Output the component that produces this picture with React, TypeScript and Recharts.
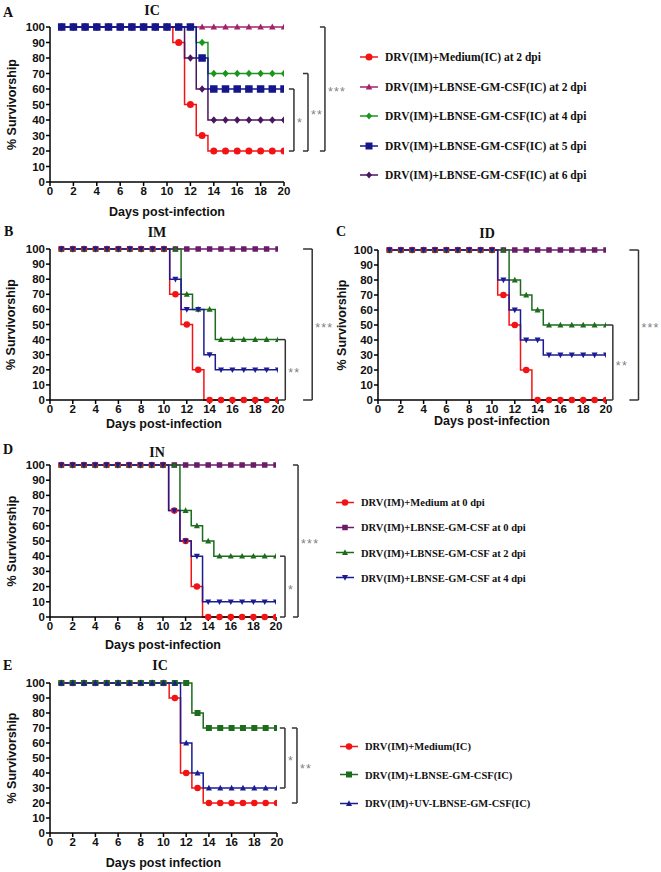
import React from 'react';
import { LineChart, Line, XAxis, YAxis, ReferenceLine } from 'recharts';

// days on which each group was scored
const days = [1, 2, 3, 4, 5, 6, 7, 8, 9, 10, 11, 12, 13, 14, 15, 16, 17, 18, 19, 20];
const xTicks = [0, 2, 4, 6, 8, 10, 12, 14, 16, 18, 20];
const yTicks = [0, 10, 20, 30, 40, 50, 60, 70, 80, 90, 100];

// A - IC treatment at different days
const aMedium = [100, 100, 100, 100, 100, 100, 100, 100, 100, 100, 90, 50, 30, 20, 20, 20, 20, 20, 20, 20];
const aDpi2 = [100, 100, 100, 100, 100, 100, 100, 100, 100, 100, 100, 100, 100, 100, 100, 100, 100, 100, 100, 100];
const aDpi4 = [100, 100, 100, 100, 100, 100, 100, 100, 100, 100, 100, 100, 90, 70, 70, 70, 70, 70, 70, 70];
const aDpi5 = [100, 100, 100, 100, 100, 100, 100, 100, 100, 100, 100, 100, 80, 60, 60, 60, 60, 60, 60, 60];
const aDpi6 = [100, 100, 100, 100, 100, 100, 100, 100, 100, 100, 100, 80, 60, 40, 40, 40, 40, 40, 40, 40];

// B - IM
const bMedium = [100, 100, 100, 100, 100, 100, 100, 100, 100, 100, 70, 50, 20, 0, 0, 0, 0, 0, 0, 0];
const bDpi0 = [100, 100, 100, 100, 100, 100, 100, 100, 100, 100, 100, 100, 100, 100, 100, 100, 100, 100, 100, 100];
const bDpi2 = [100, 100, 100, 100, 100, 100, 100, 100, 100, 100, 100, 70, 60, 60, 40, 40, 40, 40, 40, 40];
const bDpi4 = [100, 100, 100, 100, 100, 100, 100, 100, 100, 100, 80, 60, 60, 30, 20, 20, 20, 20, 20, 20];

// C - ID
const cMedium = [100, 100, 100, 100, 100, 100, 100, 100, 100, 100, 70, 50, 20, 0, 0, 0, 0, 0, 0, 0];
const cDpi0 = [100, 100, 100, 100, 100, 100, 100, 100, 100, 100, 100, 100, 100, 100, 100, 100, 100, 100, 100, 100];
const cDpi2 = [100, 100, 100, 100, 100, 100, 100, 100, 100, 100, 100, 80, 70, 60, 50, 50, 50, 50, 50, 50];
const cDpi4 = [100, 100, 100, 100, 100, 100, 100, 100, 100, 100, 80, 60, 40, 40, 30, 30, 30, 30, 30, 30];

// D - IN
const dMedium = [100, 100, 100, 100, 100, 100, 100, 100, 100, 100, 70, 50, 20, 0, 0, 0, 0, 0, 0, 0];
const dDpi0 = [100, 100, 100, 100, 100, 100, 100, 100, 100, 100, 100, 100, 100, 100, 100, 100, 100, 100, 100, 100];
const dDpi2 = [100, 100, 100, 100, 100, 100, 100, 100, 100, 100, 100, 70, 60, 50, 40, 40, 40, 40, 40, 40];
const dDpi4 = [100, 100, 100, 100, 100, 100, 100, 100, 100, 100, 70, 50, 40, 10, 10, 10, 10, 10, 10, 10];

// E - IC, live vs UV-inactivated
const eMedium = [100, 100, 100, 100, 100, 100, 100, 100, 100, 100, 90, 40, 30, 20, 20, 20, 20, 20, 20, 20];
const eLbnse = [100, 100, 100, 100, 100, 100, 100, 100, 100, 100, 100, 100, 80, 70, 70, 70, 70, 70, 70, 70];
const eUv = [100, 100, 100, 100, 100, 100, 100, 100, 100, 100, 100, 60, 40, 30, 30, 30, 30, 30, 30, 30];

const RED = '#f21414';
const MAROON = '#a3226a';
const GREEN_A = '#1c951c';
const NAVY = '#16168c';
const PURPLE_A = '#4a165e';
const PURPLE = '#6a1c6a';
const GREEN = '#1c6c1c';
const BLUE = '#1c1c92';

const SANS = '"Liberation Sans", Arial, sans-serif';
const SERIF = '"Liberation Serif", "Times New Roman", serif';

type Shape = 'circle' | 'square' | 'triangle' | 'triangleDown' | 'diamond';

interface Series {
  name: string;
  color: string;
  shape: Shape;
  size: number;
  values: number[];
}

interface Bracket {
  x: number;
  tick: number;
  y1: number;
  y2: number;
  label: string;
}

function Marker({ shape, cx, cy, size, color }: { shape: Shape; cx: number; cy: number; size: number; color: string }) {
  const h = size / 2;
  if (shape === 'circle') return <circle cx={cx} cy={cy} r={h} fill={color} />;
  if (shape === 'square') return <rect x={cx - h} y={cy - h} width={size} height={size} fill={color} />;
  if (shape === 'triangle')
    return <polygon points={`${cx},${cy - h * 1.1} ${cx + h},${cy + h * 0.8} ${cx - h},${cy + h * 0.8}`} fill={color} />;
  if (shape === 'triangleDown')
    return <polygon points={`${cx},${cy + h * 1.1} ${cx + h},${cy - h * 0.8} ${cx - h},${cy - h * 0.8}`} fill={color} />;
  return <polygon points={`${cx},${cy - h} ${cx + h * 0.85},${cy} ${cx},${cy + h} ${cx - h * 0.85},${cy}`} fill={color} />;
}

// significance stars next to a bracket
const starLabel = (text: string) => (props: any) => {
  const vb = props.viewBox || {};
  return (
    <text
      x={vb.x + 3}
      y={vb.y + vb.height / 2 + 7}
      fill="#808080"
      fontSize={12.5}
      fontFamily={SANS}
      letterSpacing={1.2}
    >
      {text}
    </text>
  );
};

interface PanelProps {
  left: number;
  top: number;
  width: number;
  height: number;
  plot: { left: number; right: number; top: number; bottom: number };
  series: Series[];
  brackets: Bracket[];
  xLabel: string;
  xLabelOffset: number;
  yLabelOffset: number;
}

function Panel({ left, top, width, height, plot, series, brackets, xLabel, xLabelOffset, yLabelOffset }: PanelProps) {
  const data = days.map((d, i) => {
    const row: any = { day: d };
    series.forEach((s, j) => {
      row['s' + j] = s.values[i];
    });
    return row;
  });

  const tickStyle = { fontSize: 11.5, fontWeight: 700, fontFamily: SANS, fill: '#111' };
  const labelStyle = { fontSize: 12.5, fontWeight: 700, fontFamily: SANS, fill: '#111' };

  return (
    <div style={{ position: 'absolute', left, top, width, height }}>
      <LineChart
        width={width}
        height={height}
        data={data}
        margin={{ top: plot.top - top, right: left + width - plot.right, bottom: 0, left: 0 }}
      >
        <XAxis
          dataKey="day"
          type="number"
          domain={[0, 20]}
          ticks={xTicks}
          interval={0}
          allowDataOverflow
          height={top + height - plot.bottom}
          stroke="#000"
          strokeWidth={1.5}
          tickSize={4}
          tickMargin={1}
          tick={tickStyle}
          label={{ value: xLabel, position: 'insideBottom', offset: xLabelOffset, style: labelStyle }}
        />
        <YAxis
          type="number"
          domain={[0, 100]}
          ticks={yTicks}
          interval={0}
          width={plot.left - left}
          stroke="#000"
          strokeWidth={1.5}
          tickSize={4}
          tickMargin={1}
          tick={tickStyle}
          label={{
            value: '% Survivorship',
            angle: -90,
            position: 'insideLeft',
            offset: yLabelOffset,
            style: { ...labelStyle, textAnchor: 'middle' },
          }}
        />
        {series.map((s, j) => (
          <Line
            key={s.name}
            type="step"
            dataKey={'s' + j}
            stroke={s.color}
            strokeWidth={1.5}
            isAnimationActive={false}
            activeDot={false}
            dot={(p: any) => (
              <Marker key={`${j}-${p.index}`} shape={s.shape} cx={p.cx} cy={p.cy} size={s.size} color={s.color} />
            )}
          />
        ))}
        {brackets.map((b, k) => [
          <ReferenceLine
            key={`v${k}`}
            segment={[{ x: b.x, y: b.y1 }, { x: b.x, y: b.y2 }]}
            ifOverflow="visible"
            stroke="#333"
            strokeWidth={1.5}
            label={starLabel(b.label)}
          />,
          <ReferenceLine
            key={`t${k}`}
            segment={[{ x: b.x - b.tick, y: b.y1 }, { x: b.x, y: b.y1 }]}
            ifOverflow="visible"
            stroke="#333"
            strokeWidth={1.5}
          />,
          <ReferenceLine
            key={`b${k}`}
            segment={[{ x: b.x - b.tick, y: b.y2 }, { x: b.x, y: b.y2 }]}
            ifOverflow="visible"
            stroke="#333"
            strokeWidth={1.5}
          />,
        ])}
      </LineChart>
    </div>
  );
}

function Legend({ left, top, gap, fontSize, series }: { left: number; top: number; gap: number; fontSize: number; series: Series[] }) {
  return (
    <div style={{ position: 'absolute', left, top }}>
      {series.map((s, i) => (
        <div
          key={s.name}
          style={{ position: 'absolute', left: 0, top: i * gap, display: 'flex', alignItems: 'center', whiteSpace: 'nowrap', transform: 'translateY(-50%)' }}
        >
          <svg width={18} height={10} style={{ display: 'block' }}>
            <line x1={0} y1={5} x2={18} y2={5} stroke={s.color} strokeWidth={1.5} />
            <Marker shape={s.shape} cx={9} cy={5} size={Math.min(s.size, 7)} color={s.color} />
          </svg>
          <span style={{ marginLeft: 7, fontFamily: SERIF, fontWeight: 700, fontSize, color: '#111' }}>{s.name}</span>
        </div>
      ))}
    </div>
  );
}

function Caption({ x, y, text, center }: { x: number; y: number; text: string; center?: boolean }) {
  return (
    <div
      style={{
        position: 'absolute',
        left: x,
        top: y,
        transform: center ? 'translate(-50%, -50%)' : 'translateY(-50%)',
        fontFamily: SERIF,
        fontWeight: 700,
        fontSize: 14,
        color: '#111',
        lineHeight: 1,
      }}
    >
      {text}
    </div>
  );
}

const seriesA: Series[] = [
  { name: 'DRV(IM)+Medium(IC) at 2 dpi', color: RED, shape: 'circle', size: 7, values: aMedium },
  { name: 'DRV(IM)+LBNSE-GM-CSF(IC) at 2 dpi', color: MAROON, shape: 'triangle', size: 6.5, values: aDpi2 },
  { name: 'DRV(IM)+LBNSE-GM-CSF(IC) at 4 dpi', color: GREEN_A, shape: 'diamond', size: 7.5, values: aDpi4 },
  { name: 'DRV(IM)+LBNSE-GM-CSF(IC) at 5 dpi', color: NAVY, shape: 'square', size: 7.5, values: aDpi5 },
  { name: 'DRV(IM)+LBNSE-GM-CSF(IC) at 6 dpi', color: PURPLE_A, shape: 'diamond', size: 7.5, values: aDpi6 },
];
const orderA = [seriesA[0], seriesA[1], seriesA[2], seriesA[4], seriesA[3]];

const seriesB: Series[] = [
  { name: 'DRV(IM)+Medium at 0 dpi', color: RED, shape: 'circle', size: 6.5, values: bMedium },
  { name: 'DRV(IM)+LBNSE-GM-CSF at 0 dpi', color: PURPLE, shape: 'square', size: 5.5, values: bDpi0 },
  { name: 'DRV(IM)+LBNSE-GM-CSF at 2 dpi', color: GREEN, shape: 'triangle', size: 6, values: bDpi2 },
  { name: 'DRV(IM)+LBNSE-GM-CSF at 4 dpi', color: BLUE, shape: 'triangleDown', size: 6, values: bDpi4 },
];
const seriesC: Series[] = [
  { ...seriesB[0], values: cMedium },
  { ...seriesB[1], values: cDpi0 },
  { ...seriesB[2], values: cDpi2 },
  { ...seriesB[3], values: cDpi4 },
];
const seriesD: Series[] = [
  { ...seriesB[0], values: dMedium },
  { ...seriesB[1], values: dDpi0 },
  { ...seriesB[2], values: dDpi2 },
  { ...seriesB[3], values: dDpi4 },
];
const orderBCD = (s: Series[]) => [s[1], s[0], s[2], s[3]];

const seriesE: Series[] = [
  { name: 'DRV(IM)+Medium(IC)', color: RED, shape: 'circle', size: 6.5, values: eMedium },
  { name: 'DRV(IM)+LBNSE-GM-CSF(IC)', color: GREEN, shape: 'square', size: 6, values: eLbnse },
  { name: 'DRV(IM)+UV-LBNSE-GM-CSF(IC)', color: BLUE, shape: 'triangle', size: 6, values: eUv },
];

export default function App() {
  return (
    <div style={{ position: 'absolute', left: 0, top: 0, width: 661, height: 872, background: '#fff', overflow: 'hidden' }}>
      {/* A */}
      <Caption x={3} y={13} text="A" />
      <Caption x={152} y={11} text="IC" center />
      <Panel
        left={0}
        top={0}
        width={360}
        height={222}
        plot={{ left: 50, right: 284, top: 27, bottom: 182 }}
        series={orderA}
        brackets={[
          { x: 20.85, tick: 0.43, y1: 60, y2: 20, label: '*' },
          { x: 22.05, tick: 0.43, y1: 70, y2: 20, label: '**' },
          { x: 23.5, tick: 0.43, y1: 100, y2: 20, label: '***' },
        ]}
        xLabel="Days post-infection"
        xLabelOffset={6}
        yLabelOffset={12}
      />
      <Legend left={360} top={57} gap={29.5} fontSize={11.5} series={seriesA} />

      {/* B */}
      <Caption x={4} y={232} text="B" />
      <Caption x={157} y={233} text="IM" center />
      <Panel
        left={0}
        top={222}
        width={340}
        height={210}
        plot={{ left: 50, right: 278, top: 249, bottom: 400 }}
        series={orderBCD(seriesB)}
        brackets={[
          { x: 20.64, tick: 0.64, y1: 40, y2: 0, label: '**' },
          { x: 23.0, tick: 0.8, y1: 100, y2: 0, label: '***' },
        ]}
        xLabel="Days post-infection"
        xLabelOffset={4.5}
        yLabelOffset={11}
      />

      {/* C */}
      <Caption x={336} y={232} text="C" />
      <Caption x={487} y={234} text="ID" center />
      <Panel
        left={330}
        top={222}
        width={331}
        height={210}
        plot={{ left: 378, right: 606, top: 250, bottom: 400 }}
        series={orderBCD(seriesC)}
        brackets={[
          { x: 20.6, tick: 0.6, y1: 50, y2: 0, label: '**' },
          { x: 22.85, tick: 0.8, y1: 100, y2: 0, label: '***' },
        ]}
        xLabel="Days post-infection"
        xLabelOffset={7}
        yLabelOffset={12}
      />

      {/* D */}
      <Caption x={3} y={450} text="D" />
      <Caption x={157} y={453} text="IN" center />
      <Panel
        left={0}
        top={432}
        width={340}
        height={222}
        plot={{ left: 50, right: 276, top: 465, bottom: 617 }}
        series={orderBCD(seriesD)}
        brackets={[
          { x: 20.8, tick: 0.45, y1: 40, y2: 0, label: '*' },
          { x: 21.95, tick: 0.45, y1: 100, y2: 0, label: '***' },
        ]}
        xLabel="Days post-infection"
        xLabelOffset={5.5}
        yLabelOffset={12}
      />
      <Legend left={336} top={502} gap={25.3} fontSize={10.5} series={seriesD} />

      {/* E */}
      <Caption x={3} y={666} text="E" />
      <Caption x={160} y={666} text="IC" center />
      <Panel
        left={0}
        top={654}
        width={340}
        height={218}
        plot={{ left: 50, right: 277, top: 683, bottom: 833 }}
        series={seriesE}
        brackets={[
          { x: 20.7, tick: 0.45, y1: 70, y2: 30, label: '*' },
          { x: 21.76, tick: 0.45, y1: 70, y2: 20, label: '**' },
        ]}
        xLabel="Days post infection"
        xLabelOffset={5.5}
        yLabelOffset={12}
      />
      <Legend left={340} top={746} gap={28.5} fontSize={10.5} series={seriesE} />
    </div>
  );
}
